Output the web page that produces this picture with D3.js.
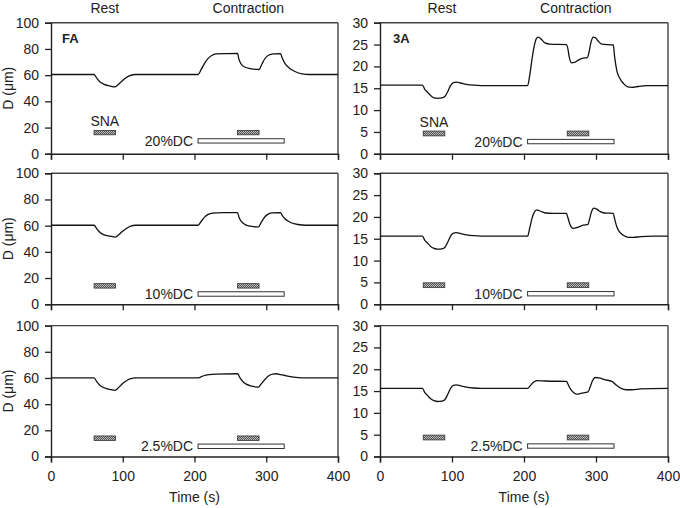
<!DOCTYPE html>
<html><head><meta charset="utf-8">
<script src="https://cdn.jsdelivr.net/npm/d3@7"></script>
<style>
body{margin:0;background:#fff;}
svg{display:block;font-family:"Liberation Sans",Arial,sans-serif;}
</style></head>
<body><div id="chart"></div>
<script>
// ---------- data ----------
const xTicks = [0, 100, 200, 300, 400];
const faTicks = [0, 20, 40, 60, 80, 100];
const aTicks = [0, 5, 10, 15, 20, 25, 30];
const dcLabels = ["20%DC", "10%DC", "2.5%DC"];
const panelNames = ["FA", "3A"];
const phaseLabels = ["Rest", "Contraction"];
const snaPeriods = [[60, 90], [260, 290]];
const dcPeriod = [205, 325];

const fa20 = [[0,60.5],[60,60.5],[64,57.5],[68,55],[74,53],[82,51.8],[89,51],[93,52.5],[98,55],[104,57.8],[110,59.6],[118,60.5],[205,60.5],[209,64],[214,69],[219,72.8],[224,75],[230,76.2],[245,76.4],[260,76.5],[262,72],[265,68.5],[270,66.2],[278,65],[290,64.3],[294,68.5],[298,72.5],[303,75.2],[310,76.2],[320,76.4],[322,73.5],[326,69],[332,65.5],[340,62.8],[350,61],[360,60.5],[400,60.5]];
const fa10 = [[0,60.3],[60,60.3],[64,57.5],[68,55],[74,53],[82,52],[90,51.3],[94,52.8],[99,55.3],[105,57.8],[111,59.6],[118,60.3],[205,60.3],[209,63],[214,66.5],[219,68.6],[225,69.6],[240,69.9],[260,70],[262,66.5],[265,63.5],[270,61],[278,59.6],[289,59],[293,62.5],[297,66],[302,68.6],[308,69.7],[320,70],[322,68],[326,65.3],[332,63],[340,61.3],[350,60.5],[360,60.3],[400,60.3]];
const fa25 = [[0,60],[60,60],[64,57],[68,54.5],[74,52.5],[82,51.3],[89,50.5],[93,52],[98,54.8],[104,57.5],[110,59.3],[118,60],[205,60],[212,61.5],[220,62.5],[230,63],[260,63.2],[263,60.5],[267,57.5],[272,55.3],[280,53.8],[289,53],[293,55.5],[298,58.8],[303,61.5],[309,63],[314,63.2],[320,62.6],[328,61.6],[338,60.6],[350,60],[400,60]];
const a20 = [[0,15.7],[59,15.7],[62,14.8],[66,14.1],[70,13.4],[75,12.8],[80,12.7],[86,12.8],[90,13.1],[94,14.2],[98,15.6],[102,16.3],[106,16.4],[112,16.2],[120,15.9],[130,15.7],[140,15.6],[205,15.6],[208,18],[211,21.5],[214,24.5],[217,26.3],[220,26.7],[224,26.2],[229,25.4],[236,25.1],[259,25],[261,24],[263,22],[266,20.8],[270,20.9],[276,21.5],[282,21.9],[288,22],[290,23],[293,25.5],[296,26.7],[299,26.6],[303,25.8],[308,25.1],[324,24.9],[326,22],[329,19],[333,17.3],[338,16.1],[344,15.3],[350,15.2],[358,15.4],[370,15.6],[400,15.6]];
const a10 = [[0,15.6],[59,15.6],[62,14.7],[66,14],[70,13.3],[75,12.8],[80,12.6],[86,12.7],[90,13],[94,14.2],[98,15.6],[102,16.3],[106,16.4],[112,16.2],[120,15.9],[130,15.7],[140,15.6],[205,15.6],[208,17.5],[211,19.6],[214,21],[218,21.6],[223,21.3],[230,20.9],[240,20.8],[259,20.8],[261,19.8],[264,18.2],[268,17.4],[274,17.6],[282,18.1],[289,18.3],[291,19.5],[294,21.3],[297,22],[301,21.8],[306,21.2],[312,20.9],[324,20.8],[326,19.5],[329,17.7],[333,16.5],[338,15.8],[345,15.3],[352,15.3],[362,15.5],[380,15.6],[400,15.6]];
const a25 = [[0,15.6],[59,15.6],[62,14.7],[66,14],[70,13.3],[75,12.8],[80,12.6],[86,12.7],[90,13],[94,14.2],[98,15.6],[102,16.3],[106,16.4],[112,16.2],[120,15.9],[130,15.7],[140,15.6],[205,15.6],[209,16.3],[213,17],[218,17.4],[230,17.3],[259,17.2],[261,16.6],[264,15.6],[268,14.8],[273,14.3],[280,14.5],[289,14.8],[292,16],[295,17.3],[299,18.1],[304,18],[312,17.6],[322,17.2],[328,16.4],[335,15.6],[342,15.3],[350,15.3],[362,15.5],[400,15.6]];

// bar vertical extents (data units) per row: [snaLow, snaHigh, dcLow, dcHigh]
const faBarY = [[14.5,17.8,8.2,11.5],[12.3,15.7,6.1,9.5],[12.3,15.7,6.1,9.5]];
const aBarY  = [[4.1,5.2,2.3,3.3],[3.8,4.9,1.9,2.9],[3.8,4.9,1.9,2.9]];

// ---------- layout ----------
const W = 680, H = 508;
const cols = [{x0:51, x1:338, ymax:100, ticks:faTicks, series:[fa20,fa10,fa25], bars:faBarY},
              {x0:380, x1:668, ymax:30, ticks:aTicks, series:[a20,a10,a25], bars:aBarY}];
const rows = [{y0:22.7, y1:153.8},{y0:173.3, y1:304.2},{y0:325.6, y1:456.5}];
const ink = "#222";

const svg = d3.select("#chart").append("svg").attr("width", W).attr("height", H);

const defs = svg.append("defs");
const pat = defs.append("pattern").attr("id","hatch").attr("patternUnits","userSpaceOnUse")
  .attr("width",2).attr("height",2);
pat.append("rect").attr("width",2).attr("height",2).attr("fill","#555");
pat.append("rect").attr("width",1).attr("height",1).attr("fill","#bbb");
pat.append("rect").attr("x",1).attr("y",1).attr("width",1).attr("height",1).attr("fill","#bbb");

const line = d3.line().curve(d3.curveMonotoneX);

cols.forEach((c, ci) => {
  const x = d3.scaleLinear().domain([0, 400]).range([c.x0, c.x1]);
  // phase labels
  svg.append("text").attr("x", x(ci === 0 ? 75 : 86)).attr("y", 13).attr("text-anchor","middle")
    .attr("font-size",14).attr("fill",ink).text(phaseLabels[0]);
  svg.append("text").attr("x", x(ci === 0 ? 275 : 272)).attr("y", 13).attr("text-anchor","middle")
    .attr("font-size",14).attr("fill",ink).text(phaseLabels[1]);

  rows.forEach((r, ri) => {
    const y = d3.scaleLinear().domain([0, c.ymax]).range([r.y1, r.y0]);
    const g = svg.append("g");

    // frame top and right
    g.append("line").attr("x1", c.x0).attr("x2", c.x1).attr("y1", r.y0).attr("y2", r.y0)
      .attr("stroke","#444").attr("stroke-width",1.4);
    g.append("line").attr("x1", c.x1).attr("x2", c.x1).attr("y1", r.y0).attr("y2", r.y1)
      .attr("stroke","#444").attr("stroke-width",1.4);

    // y axis
    const ya = d3.axisLeft(y).tickValues(c.ticks).tickSize(6).tickPadding(6).tickFormat(d3.format("d"));
    const yg = g.append("g").attr("transform", `translate(${c.x0},0)`).call(ya);
    // x axis
    const xa = d3.axisBottom(x).tickValues(xTicks).tickSize(6).tickPadding(9)
      .tickFormat(ri === 2 ? d3.format("d") : () => "");
    const xg = g.append("g").attr("transform", `translate(0,${r.y1})`).call(xa);
    [yg, xg].forEach(a => {
      a.select(".domain").attr("stroke", ink).attr("stroke-width", 1.4);
      a.selectAll(".tick line").attr("stroke", ink).attr("stroke-width", 1.3);
      a.selectAll("text").attr("font-size", 14).attr("fill", ink)
        .attr("font-family", '"Liberation Sans",Arial,sans-serif');
    });

    // trace
    g.append("path").datum(c.series[ri])
      .attr("d", line.x(d => x(d[0])).y(d => y(d[1])))
      .attr("fill","none").attr("stroke","#111").attr("stroke-width",1.3);

    // stimulus bars
    const b = c.bars[ri];
    snaPeriods.forEach(p => {
      g.append("rect").attr("x", x(p[0])).attr("width", x(p[1]) - x(p[0]))
        .attr("y", y(b[1])).attr("height", y(b[0]) - y(b[1]))
        .attr("fill","url(#hatch)").attr("stroke","#333").attr("stroke-width",0.8);
    });
    g.append("rect").attr("x", x(dcPeriod[0])).attr("width", x(dcPeriod[1]) - x(dcPeriod[0]))
      .attr("y", y(b[3])).attr("height", y(b[2]) - y(b[3]))
      .attr("fill","#fff").attr("stroke","#333").attr("stroke-width",1);
    g.append("text").attr("x", x(dcPeriod[0]) - 5).attr("y", (y(b[2]) + y(b[3])) / 2 + 5)
      .attr("text-anchor","end").attr("font-size",14).attr("fill",ink).text(dcLabels[ri]);
    if (ri === 0) {
      g.append("text").attr("x", x((snaPeriods[0][0] + snaPeriods[0][1]) / 2)).attr("y", y(b[1]) - 4)
        .attr("text-anchor","middle").attr("font-size",14).attr("fill",ink).text("SNA");
      g.append("text").attr("x", c.x0 + (ci === 0 ? 11 : 13)).attr("y", r.y0 + 20)
        .attr("font-size",13).attr("font-weight","bold").attr("fill",ink).text(panelNames[ci]);
    }
    if (ci === 0) {
      g.append("text").attr("transform", `translate(13,${(r.y0 + r.y1) / 2}) rotate(-90)`)
        .attr("text-anchor","middle").attr("font-size",14).attr("fill",ink).text("D (μm)");
    }
    if (ri === 2) {
      g.append("text").attr("x", (c.x0 + c.x1) / 2).attr("y", 502).attr("text-anchor","middle")
        .attr("font-size",14).attr("fill",ink).text("Time (s)");
    }
  });
});
</script></body></html>
